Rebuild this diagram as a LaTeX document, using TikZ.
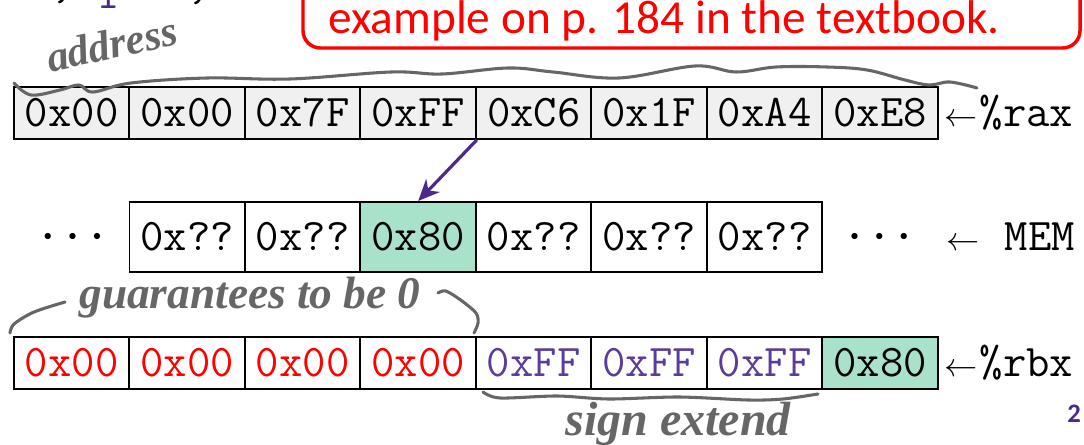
\documentclass[tikz,border=0pt]{standalone}
\usepackage{fontspec}
\setmainfont{Liberation Serif}
\newfontfamily\notefont{Carlito}
\usetikzlibrary{arrows.meta,positioning,calc}
\definecolor{inkgray}{HTML}{666666}
\definecolor{regfill}{HTML}{F0F0F0}
\definecolor{mint}{HTML}{A9E2CA}
\definecolor{signred}{HTML}{FF0000}
\definecolor{extpurple}{HTML}{5B3C9A}
\definecolor{deeppurple}{HTML}{4B2A8F}
\newcommand{\larr}{{\fontsize{28}{28}\selectfont$\leftarrow$}}
\newcommand{\dotrow}{{\fontsize{13}{13}\selectfont$\bullet$\hspace{12.5pt}$\bullet$\hspace{12.5pt}$\bullet$}}

\tikzset{
  bytecell/.style={draw=black,line width=1.4pt,minimum width=86.6pt,minimum height=39pt,
                   inner sep=0pt,anchor=north west,text height=20.7pt,text depth=0pt,
                   font=\ttfamily\fontsize{34}{36}\selectfont},
  memcell/.style={bytecell,minimum height=52.5pt},
  regname/.style={anchor=west,inner sep=0pt,font=\ttfamily\fontsize{34}{36}\selectfont},
  scrawl/.style={draw=inkgray,line width=2.3pt,line cap=round,line join=round},
  scrawltext/.style={text=inkgray,inner sep=0pt,font=\itshape\bfseries\fontsize{32}{34}\selectfont},
}

\begin{document}
\begin{tikzpicture}[x=0.75pt,y=-0.75pt]
  \useasboundingbox (0,0) rectangle (1084,445);

  % cut-off instruction text and the red note
  \node[anchor=base,inner sep=0pt,font=\ttfamily\fontsize{34}{36}\selectfont] (fragA) at (62,-2) {,};
  \node[anchor=base,inner sep=0pt,text=deeppurple,font=\ttfamily\fontsize{34}{36}\selectfont] (fragB) at (108,9) {1};
  \node[anchor=base,inner sep=0pt,font=\ttfamily\fontsize{34}{36}\selectfont] (fragC) at (198,-1) {,};
  \draw[signred,line width=2.6pt,rounded corners=13pt] (303,-40) rectangle (1080,48);
  \node[anchor=base west,inner sep=0pt,text=signred,font=\notefont\fontsize{35.5}{37}\selectfont] (note) at (328,34)
    {example on p. 184 in the textbook.};

  % the three byte rows
  \foreach \v [count=\i] in {00,00,7F,FF,C6,1F,A4,E8}
    \node[bytecell,fill=regfill] (rax\i) at ({13+115.5*(\i-1)},86) {0x\v};
  \foreach \v/\f [count=\i] in {??/white,??/white,80/mint,??/white,??/white,??/white}
    \node[memcell,fill=\f] (mem\i) at ({128.5+115.5*(\i-1)},201) {0x\v};
  \foreach \v/\c/\f [count=\i] in {00/signred/white,00/signred/white,00/signred/white,00/signred/white,
                                   FF/extpurple/white,FF/extpurple/white,FF/extpurple/white,80/black/mint}
    \node[bytecell,fill=\f,text=\c] (rbx\i) at ({13+115.5*(\i-1)},336) {0x\v};

  \node[regname] (raxname) at ($(rax8.east)+(5,0)$) {\larr\hspace{2pt}\%rax};
  \node[regname] (rbxname) at ($(rbx8.east)+(5,0)$) {\larr\hspace{2pt}\%rbx};
  \node[anchor=east,inner sep=0pt] (dotsl) at ($(mem1.west)+(-27,0)$) {\dotrow};
  \node[anchor=west,inner sep=0pt] (dotsr) at ($(mem6.east)+(27,0)$) {\dotrow};
  \node[regname] (memname) at ($(dotsr.east)+(38,0)$) {\larr\hspace{19pt}MEM};

  \draw[deeppurple,line width=2.4pt,-{Stealth[length=16pt,width=14pt,inset=5pt]}] (rax4.south east) -- (mem3.north);

  % handwritten notes
  \node[scrawltext,rotate=12] (addr) at (112,44) {address};
  \draw[scrawl] plot[smooth,tension=0.6] coordinates {(14,83) (31,95) (60,90) (79,85) (93,92) (131,83) (207,78)
    (290,79) (391,72) (442,74) (508,68) (553,72) (619,78) (695,66) (736,72) (776,67) (827,67) (867,70)
    (905,80) (929,85) (950,82) (977,88)};
  \node[scrawltext,font=\itshape\bfseries\fontsize{34}{36}\selectfont] (zeros) at (250,298) {guarantees to be 0};
  \draw[scrawl] plot[smooth] coordinates {(10,333) (14,324) (34,312) (65,302)};
  \draw[scrawl] plot[smooth] coordinates {(438,293) (446,291) (462,301) (476,313) (478,323) (474,333)};
  \draw[scrawl] plot[smooth] coordinates {(483,392) (500,398) (557,396) (609,399) (679,397) (748,400) (783,399) (818,394)};
  \node[scrawltext,font=\itshape\bfseries\fontsize{36}{38}\selectfont] (ext) at (678,424) {sign extend};

  \node[anchor=base west,inner sep=0pt,text=deeppurple,font=\notefont\bfseries\fontsize{20}{22}\selectfont] (pagenum) at (1067,422) {2};
\end{tikzpicture}
\end{document}
